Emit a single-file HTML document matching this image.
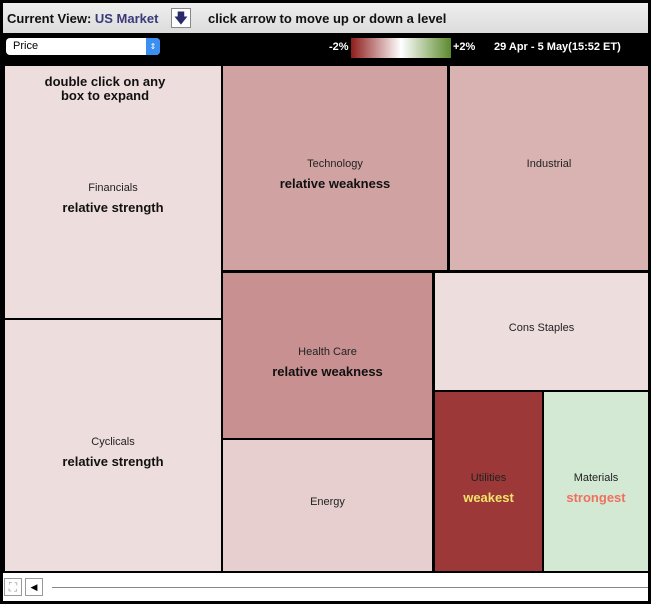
<!DOCTYPE html>
<html><head><meta charset="utf-8"><style>
body{margin:0;width:651px;height:604px;background:#000;position:relative;overflow:hidden;font-family:"Liberation Sans",sans-serif}
#hdr{position:absolute;left:3px;top:3px;width:645px;height:30px;background:linear-gradient(#eee,#dcdcdc);}
.box{position:absolute;box-sizing:border-box;text-align:center}
.lbl{position:absolute;left:0;right:0;font-size:11px;color:#222}
.ann{position:absolute;left:0;right:0;font-family:"Liberation Sans",sans-serif;font-weight:bold;font-size:13px;color:#111}
</style></head><body>
<div id="hdr">
 <span style="position:absolute;left:4px;top:8px;font-size:13px;font-weight:bold;color:#111">Current View: <span style="color:#3a3a7a">US Market</span></span>
 <div style="position:absolute;left:168px;top:5px;width:20px;height:20px;background:#fff;border:1px solid #888;box-sizing:border-box;text-align:center;color:#2a2a6a;font-size:14px;line-height:18px">&#129095;</div>
 <span style="position:absolute;left:205px;top:8px;font-size:13px;font-weight:bold;color:#111">click arrow to move up or down a level</span>
</div>
<div style="position:absolute;left:6px;top:38px;width:154px;height:17px;background:#fff;border-radius:4px">
 <span style="position:absolute;left:7px;top:2px;font-size:11px">Price</span>
 <div style="position:absolute;right:0;top:0;width:14px;height:17px;background:#3b8ff0;border-radius:0 4px 4px 0;color:#fff;font-size:8px;text-align:center;line-height:17px">&#8661;</div>
</div>
<span style="position:absolute;left:329px;top:41px;color:#fff;font-size:11px;font-weight:bold">-2%</span>
<div style="position:absolute;left:351px;top:38px;width:100px;height:20px;background:linear-gradient(90deg,#8e1c1c,#fff 50%,#5c8a2e)"></div>
<span style="position:absolute;left:453px;top:41px;color:#fff;font-size:11px;font-weight:bold">+2%</span>
<span style="position:absolute;left:494px;top:41px;color:#fff;font-size:11px;font-weight:bold">29 Apr - 5 May(15:52 ET)</span>
<div id="map"></div>
<div style="position:absolute;left:3px;top:573px;width:645px;height:28px;background:#fff">
 <div style="position:absolute;left:1px;top:5px;width:18px;height:18px;border:1px solid #999;box-sizing:border-box;color:#999;font-size:12px;text-align:center;line-height:16px">&#x26F6;</div>
 <div style="position:absolute;left:22px;top:5px;width:18px;height:18px;border:1px solid #999;box-sizing:border-box;font-size:9px;text-align:center;line-height:16px">&#9664;</div>
 <div style="position:absolute;left:49px;top:14px;width:596px;height:1px;background:#888"></div>
</div>
<script>
const sectors=["Financials","Cyclicals","Technology","Industrial","Health Care","Cons Staples","Energy","Utilities","Materials"];
const changes=[-0.3,-0.3,-0.82,-0.68,-0.98,-0.3,-0.42,-1.75,0.6];
const notes=["relative strength","relative strength","relative weakness","","relative weakness","","","weakest","strongest"];
const layout=[[5,66,216,252],[5,320,216,251],[223,66,224,204],[450,66,198,204],[223,273,209,165],[435,273,213,117],[223,440,209,131],[435,392,107,179],[544,392,104,179]];
function color(v){const t=Math.min(1,Math.abs(v)/2);
 if(v<0){return `rgb(${Math.round(255-t*(255-142))},${Math.round(255-t*(255-28))},${Math.round(255-t*(255-28))})`;}
 return `rgb(${Math.round(255-t*(255-107))},${Math.round(255-t*(255-181))},${Math.round(255-t*(255-107))})`;}
const map=document.getElementById('map');
sectors.forEach((s,i)=>{const [x,y,w,h]=layout[i];const d=document.createElement('div');
 d.className='box';
 
 
 d.style.cssText=`left:${x}px;top:${y}px;width:${w}px;height:${h}px;background:${color(changes[i])}`;
 const cy=h/2;
 let html=`<div class="lbl" style="top:${cy-10}px">${s}</div>`;
 if(notes[i]){let c='#111';if(notes[i]=='weakest')c='#f3e36a';if(notes[i]=='strongest')c='#f07060';
  html+=`<div class="ann" style="top:${cy+8}px;color:${c}">${notes[i]}</div>`;}
 d.innerHTML=html;map.appendChild(d);});
const tip=document.createElement('div');
tip.className='ann';


tip.style.cssText='position:absolute;left:5px;right:auto;width:200px;top:75px;line-height:14px;text-align:center';
tip.innerHTML='double click on any<br>box to expand';
map.appendChild(tip);
</script>
</body></html>
